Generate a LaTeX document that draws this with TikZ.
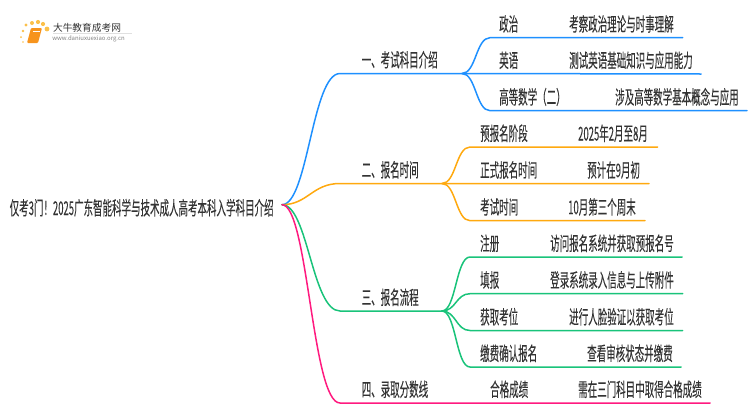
\documentclass[tikz,border=0pt]{standalone}
\usepackage{fontspec}
\setmainfont[FakeStretch=0.5,FakeBold=0.05]{Noto Sans CJK SC}
\newfontfamily\logofont{Noto Sans CJK SC}
\usetikzlibrary{calc}
\definecolor{cb}{HTML}{1E90FF}
\definecolor{co}{HTML}{FFA90F}
\definecolor{cg}{HTML}{19C37A}
\definecolor{cp}{HTML}{FF1A7F}
\definecolor{tx}{HTML}{333333}
\definecolor{bookc}{HTML}{F7941D}
\definecolor{dotc}{HTML}{FBC04A}
\tikzset{
 lab/.style={inner sep=0pt,text=tx,font=\fontsize{19}{19}\selectfont,anchor=base west},
 lnk/.style={line width=1.5pt,line cap=round},
}
\begin{document}
\begin{tikzpicture}[x=1pt,y=-1pt]
\useasboundingbox (0,0) rectangle (750,410);
% logo
\foreach \px/\py/\r in {23/42/.8,21/37/1,23/31/1.3,26/25/1.7,32/23/2,38/22/2.1,43/24/2.1,47/29/2.4}{
 \fill[dotc] (\px,\py) circle (\r);}
\fill[bookc,rounded corners=1pt] (31,28) -- (42,28) -- (38,43) -- (27,43) -- cycle;
\draw[white,line width=.5pt] (33,31) -- (40,31);
\draw[black!12,line width=.6pt] (53,33.5) -- (132,33.5);
\node[inner sep=0pt,text=tx] (logoA) at (87,27.5) {\logofont\fontsize{9.7}{10}\selectfont 大牛教育成考网};
\node[inner sep=0pt,text=gray] (logoB) at (88.5,39) {\logofont\fontsize{6}{6}\selectfont www.daniuxuexiao.org.cn};
% root
\node[lab] (root) at (9.5,215) {仅考3门！2025广东智能科学与技术成人高考本科入学科目介绍};
\coordinate (r) at (282,204.7);
% level 1 joints
\coordinate (j1a) at (340,73.5); \coordinate (j1) at (462,73.5);
\coordinate (j2a) at (340,183.5); \coordinate (j2) at (442,183.5);
\coordinate (j3a) at (340,311); \coordinate (j3) at (442,311);
\coordinate (j4a) at (340,403); \coordinate (j4) at (710,403);
\node[lab] (n1) at (361.5,67) {一、考试科目介绍};
\node[lab] (n2) at (361.5,177) {二、报名时间};
\node[lab] (n3) at (361.5,304.5) {三、报名流程};
\node[lab] (n4) at (361.5,396.5) {四、录取分数线};
% children
\foreach \nm/\x/\y/\t in {
 a1/499/31.2/政治, a2/499/67.5/英语, a3/499/104.2/高等数学（二）,
 b1/480/140.5/预报名阶段, b2/480/177.2/正式报名时间, b3/480/214.2/考试时间,
 c1/480/250.5/注册, c2/480/287.2/填报, c3/480/324/获取考位, c4/480/360.5/缴费确认报名,
 d1/490/396.5/合格成绩,
 e1/569/31.2/考察政治理论与时事理解, e2/569/67.5/测试英语基础知识与应用能力, e3/615/104.2/涉及高等数学基本概念与应用,
 f1/578/140.5/2025年2月至8月, f2/587/177.2/预计在9月初, f3/568/214.2/10月第三个周末,
 g1/550/250.5/访问报名系统并获取预报名号, g2/550/287.2/登录系统录入信息与上传附件, g3/569/324/进行人脸验证以获取考位, g4/587/360.5/查看审核状态并缴费,
 h1/578/396.5/需在三门科目中取得合格成绩}{
 \node[lab] (\nm) at (\x,\y) {\t};
}
% root branches
\draw[lnk,cb] (r) .. controls (308,204.7) and (312,73.5) .. (j1a) -- (j1);
\draw[lnk,co] (r) .. controls (308,204.7) and (312,183.5) .. (j2a) -- (j2);
\draw[lnk,cg] (r) .. controls (308,204.7) and (312,311) .. (j3a) -- (j3);
\draw[lnk,cp] (r) .. controls (308,204.7) and (312,403) .. (j4a) -- (j4);
% sub branches
\coordinate (a1s) at (682.7,37.7); \coordinate (a2s) at (701,74); \coordinate (a3s) at (747,110.7);
\coordinate (b1s) at (657.7,147); \coordinate (b2s) at (649,183.7); \coordinate (b3s) at (645,220.7);
\coordinate (c1s) at (682,257); \coordinate (c2s) at (682.7,293.7); \coordinate (c3s) at (682.7,330.5); \coordinate (c4s) at (681,367);
\coordinate (a1k) at (490,37.7); \coordinate (a3k) at (490,110.7);
\coordinate (b1k) at (470,147); \coordinate (b3k) at (470,220.7);
\coordinate (c1k) at (470,257); \coordinate (c2k) at (470,293.7); \coordinate (c3k) at (470,330.5); \coordinate (c4k) at (470,367);
\draw[lnk,cb] (j1) .. controls (476,73.5) and (476,37.7) .. (a1k) -- (a1s);
\draw[lnk,cb] (j1) -- (a2s);
\draw[lnk,cb] (j1) .. controls (476,73.5) and (476,110.7) .. (a3k) -- (a3s);
\draw[lnk,co] (j2) .. controls (456,183.5) and (456,147) .. (b1k) -- (b1s);
\draw[lnk,co] (j2) -- (b2s);
\draw[lnk,co] (j2) .. controls (456,183.5) and (456,220.7) .. (b3k) -- (b3s);
\draw[lnk,cg] (j3) .. controls (456,311) and (456,257) .. (c1k) -- (c1s);
\draw[lnk,cg] (j3) .. controls (456,311) and (456,293.7) .. (c2k) -- (c2s);
\draw[lnk,cg] (j3) .. controls (456,311) and (456,330.5) .. (c3k) -- (c3s);
\draw[lnk,cg] (j3) .. controls (456,311) and (456,367) .. (c4k) -- (c4s);
\end{tikzpicture}
\end{document}
